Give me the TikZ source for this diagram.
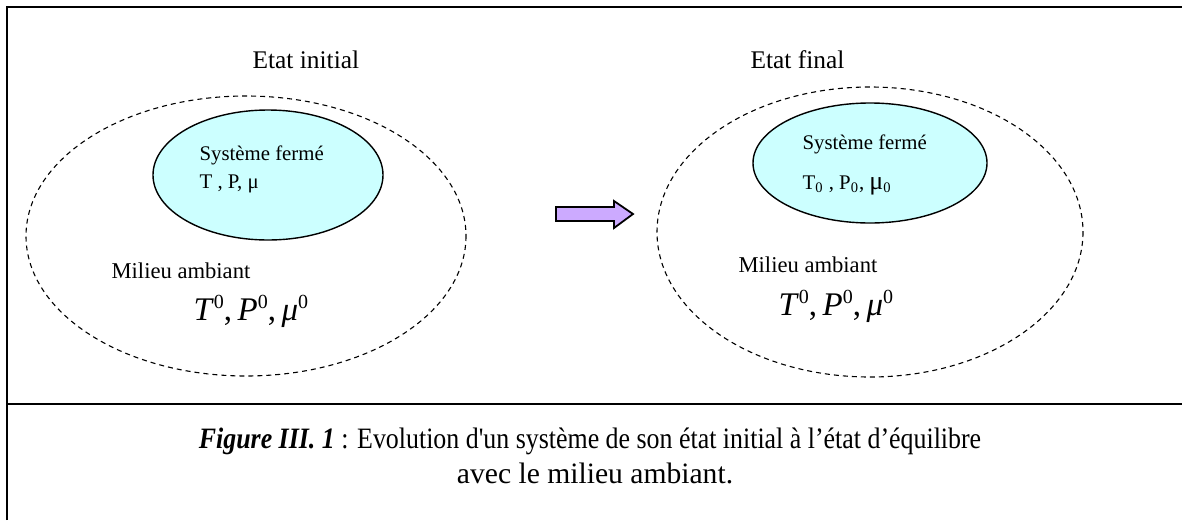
\documentclass[tikz,border=0pt]{standalone}
\usepackage{fontspec}
\setmainfont{Liberation Serif}[Ligatures=TeXOff]
\definecolor{systeme}{RGB}{204,255,255}
\definecolor{lilas}{RGB}{204,170,255}
\newcommand{\expo}[1]{\textit{#1}\raisebox{0.75ex}{\fontsize{10}{10}\selectfont 0}}

\begin{document}
\begin{tikzpicture}[x=0.5pt,y=-0.5pt,semithick,
  txt/.style={anchor=base west,inner sep=0pt},
  titre/.style={txt,font=\fontsize{12.7}{15}\selectfont},
  sys/.style={txt,font=\fontsize{10.4}{12}\selectfont},
  milieu/.style={txt,font=\fontsize{11.3}{13}\selectfont},
  grand/.style={txt,font=\fontsize{16.5}{19}\selectfont},
  legende/.style={anchor=base,inner sep=0pt,font=\fontsize{14.8}{17}\selectfont},
  ambiant/.style={line width=0.55pt,dash pattern=on 2.5pt off 2pt}]
\useasboundingbox (0,0) rectangle (1182,520);
\draw[line width=1pt](7,520)--(7,7)--(1182,7)(7,404)--(1182,404);
% etat initial
\draw[ambiant](246,236)ellipse[x radius=220,y radius=140];
\draw[line width=0.7pt,fill=systeme](268,175)ellipse[x radius=115,y radius=65];
\node[titre](EI)at(252,68){Etat initial};
\node[sys](SI)at(199,160){Système fermé};
\node[sys](VI)at(199,188){T , P, μ};
\node[milieu](MI)at(111,278){Milieu ambiant};
\node[grand](GI)at(193,320){\expo{T},\,\expo{P},\,\expo{μ}};
% etat final
\draw[ambiant](870,232)ellipse[x radius=213,y radius=145];
\draw[line width=0.7pt,fill=systeme](870,163)ellipse[x radius=117,y radius=60];
\node[titre](EF)at(750,68){Etat final};
\node[sys](SF)at(802,149){Système fermé};
\node[sys](VF)at(802,189){T\textsubscript{0} , P\textsubscript{0}, {\fontsize{13}{13}\selectfont μ}\textsubscript{0}};
\node[milieu](MF)at(738,272){Milieu ambiant};
\node[grand](GF)at(778,315){\expo{T},\,\expo{P},\,\expo{μ}};
% fleche
\draw[line width=0.9pt,fill=lilas](556,207)--(614,207)--(614,201)--(633,214)--(614,228)--(614,221)--(556,221)--cycle;
% legende
\node[legende](L1)at(590,448){\scalebox{0.875}[1]{\textbf{\textit{Figure III. 1}} : Evolution d'un système de son état initial à l’état d’équilibre}};
\node[legende](L2)at(595,483){avec le milieu ambiant.};
\end{tikzpicture}
\end{document}
